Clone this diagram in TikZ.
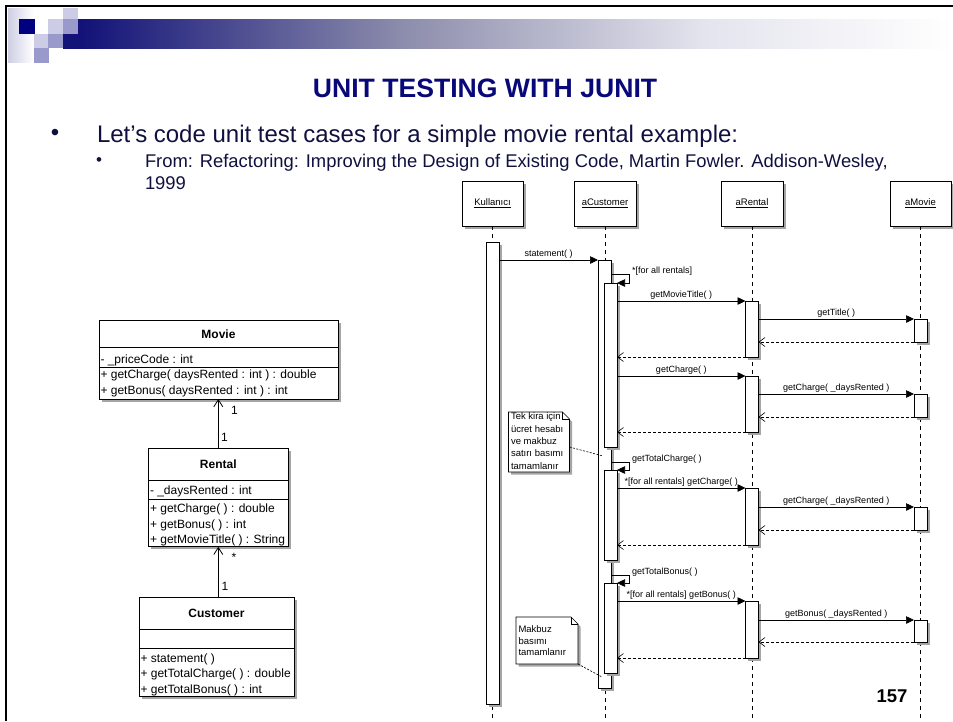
\documentclass[tikz,border=0pt]{standalone}
\usepackage{fontspec}
\setmainfont{Liberation Sans}
\usetikzlibrary{shadows,arrows.meta}
\definecolor{hA}{RGB}{18,18,120}
\definecolor{hB}{RGB}{140,140,172}
\definecolor{hC}{RGB}{228,228,238}
\definecolor{sqL}{RGB}{204,204,230}
\definecolor{sqM}{RGB}{153,153,204}
\definecolor{sqD}{RGB}{0,0,128}
\definecolor{gradL}{RGB}{206,206,228}
\definecolor{titleC}{RGB}{8,8,120}
\definecolor{bodyC}{RGB}{16,16,64}
\definecolor{shadowC}{RGB}{165,165,165}
\pgfdeclarehorizontalshading{hdrshade}{100bp}{color(0bp)=(hA); color(26bp)=(hA); color(44bp)=(hB); color(61bp)=(hC); color(75bp)=(white); color(100bp)=(white)}
\newcommand{\seqf}{\fontsize{9}{11}\selectfont}
\newcommand{\headf}{\fontsize{9.5}{11}\selectfont}
\newcommand{\clsf}{\fontsize{12}{14}\selectfont}
\begin{document}
\begin{tikzpicture}[x=1pt,y=-1pt,
  every node/.style={inner sep=0pt,outer sep=0pt},
  shad/.style={drop shadow={shadow xshift=2.5pt,shadow yshift=-2.5pt,fill=shadowC,opacity=1}},
  head/.style={draw,line width=0.7pt,fill=white,shad,minimum height=45pt,font=\headf},
  bar/.style={draw,line width=0.7pt,fill=white,shad,minimum width=13pt,anchor=north},
  life/.style={line width=0.7pt,dash pattern=on 4pt off 4pt},
  msg/.style={line width=0.7pt,-{Triangle[length=8pt,width=7.5pt]}},
  ret/.style={line width=0.6pt,dash pattern=on 3pt off 2pt,-{Straight Barb[length=6pt,width=9pt]}},
  mlab/.style={font=\seqf,anchor=base,yshift=4pt},
  slab/.style={font=\seqf,anchor=base west},
  notebox/.style={line width=0.6pt,fill=white,shad},
  notetext/.style={anchor=north west,align=left},
  notelink/.style={line width=0.6pt,dash pattern=on 2pt off 1.5pt},
  cls/.style={draw,line width=0.7pt,fill=white,shad,anchor=north west},
  sep/.style={line width=0.7pt},
  ctitle/.style={font=\clsf\bfseries,anchor=base},
  citem/.style={font=\clsf,anchor=base west},
  mult/.style={font=\clsf,anchor=base},
  assoc/.style={line width=0.8pt,-{Straight Barb[length=7pt,width=9pt]}}
]
\useasboundingbox (0,0) rectangle (953,721);
\fill[white] (0,0) rectangle (953,721);

% ---------- slide header ----------
\shade[shading=hdrshade] (63,19) rectangle (953,48.3);
\shade[left color=gradL,right color=white] (8,8) rectangle (33.3,62);
\fill[sqD] (19,19) rectangle (35,34);
\fill[sqL] (48.3,19) rectangle (63.3,34);
\fill[sqM] (63.3,19) rectangle (78,34);
\fill[sqL] (63.3,8) rectangle (78,19);
\fill[sqL] (34.3,34.3) rectangle (48.3,48.3);
\fill[sqM] (48.3,34.3) rectangle (63.3,48.3);
\fill[sqM] (34.3,48.3) rectangle (49,62.7);
\draw[line width=2.5pt] (6.2,721) -- (6.2,6.2) -- (953,6.2);

\node[font=\fontsize{26.6}{30}\selectfont\bfseries,text=titleC,anchor=base] (title) at (485,97) {UNIT TESTING WITH JUNIT};
\node[font=\fontsize{24}{28}\selectfont,text=bodyC] (b1) at (55,135) {•};
\node[font=\fontsize{24}{28}\selectfont,text=bodyC,anchor=base west] (l1) at (97,142) {Let’s code unit test cases for a simple movie rental example:};
\node[font=\fontsize{17}{20}\selectfont,text=bodyC] (b2) at (99,161.5) {•};
\node[font=\fontsize{18.4}{22}\selectfont,text=bodyC,anchor=base west] (l2) at (145,167) {From: Refactoring: Improving the Design of Existing Code, Martin Fowler. Addison-Wesley,};
\node[font=\fontsize{18.4}{22}\selectfont,text=bodyC,anchor=base west] (l3) at (145,189) {1999};
\node[font=\fontsize{18.5}{20}\selectfont\bfseries,anchor=base] (pg) at (892,702) {157};

% ---------- sequence diagram ----------
\coordinate (bot) at (0,721);
\node[head,minimum width=61pt] (kul) at (492.5,203.5) {\underline{Kullanıcı}};
\node[head,minimum width=62pt] (cus) at (605,203.5) {\underline{aCustomer}};
\node[head,minimum width=62pt] (ren) at (752,203.5) {\underline{aRental}};
\node[head,minimum width=61pt] (mov) at (920.5,203.5) {\underline{aMovie}};
\draw[life] (kul.south) -- (kul.south |- bot);
\draw[life] (cus.south) -- (cus.south |- bot);
\draw[life] (ren.south) -- (ren.south |- bot);
\draw[life] (mov.south) -- (mov.south |- bot);

\node[bar,minimum height=462pt,minimum width=12.5pt] (kb) at (493,242) {};
\node[bar,minimum height=428pt] (cb0) at (604.5,260) {};
\node[bar,minimum height=164pt] (cb1) at (610.5,283) {};
\node[bar,minimum height=90pt] (cb2) at (610.5,470) {};
\node[bar,minimum height=90pt] (cb3) at (610.5,583) {};
\node[bar,minimum height=56pt] (rb1) at (752,301) {};
\node[bar,minimum height=56pt] (rb2) at (752,376) {};
\node[bar,minimum height=57pt] (rb3) at (752,488) {};
\node[bar,minimum height=57pt] (rb4) at (752,601) {};
\node[bar,minimum height=23pt] (mb1) at (920.5,319) {};
\node[bar,minimum height=23pt] (mb2) at (920.5,394) {};
\node[bar,minimum height=23pt] (mb3) at (920.5,507) {};
\node[bar,minimum height=22pt] (mb4) at (920.5,620) {};

% statement
\draw[msg] (kb.east |- cb0.north) -- node[mlab] (t0) {statement( )} (cb0.north west);
% loop 1
\coordinate (s1) at (629,274);
\draw[msg] (cb0.east |- s1) -- (s1) |- (cb1.north east);
\node[slab] (t1) at (632,273) {*[for all rentals]};
\draw[msg] (cb1.east |- rb1.north) -- node[mlab] (t2) {getMovieTitle( )} (rb1.north west);
\draw[msg] (rb1.east |- mb1.north) -- node[mlab] (t3) {getTitle( )} (mb1.north west);
\draw[ret] (mb1.south west) -- (rb1.east |- mb1.south);
\draw[ret] (rb1.south west) -- (cb1.east |- rb1.south);
\draw[msg] (cb1.east |- rb2.north) -- node[mlab] (t4) {getCharge( )} (rb2.north west);
\draw[msg] (rb2.east |- mb2.north) -- node[mlab] (t5) {getCharge( \_daysRented )} (mb2.north west);
\draw[ret] (mb2.south west) -- (rb2.east |- mb2.south);
\draw[ret] (rb2.south west) -- (cb1.east |- rb2.south);
% total charge
\coordinate (s2) at (629,462);
\draw[msg] (cb0.east |- s2) -- (s2) |- (cb2.north east);
\node[slab] (t6) at (632,461.5) {getTotalCharge( )};
\draw[msg] (cb2.east |- rb3.north) -- node[mlab] (t7) {*[for all rentals] getCharge( )} (rb3.north west);
\draw[msg] (rb3.east |- mb3.north) -- node[mlab] (t8) {getCharge( \_daysRented )} (mb3.north west);
\draw[ret] (mb3.south west) -- (rb3.east |- mb3.south);
\draw[ret] (rb3.south west) -- (cb2.east |- rb3.south);
% total bonus
\coordinate (s3) at (629,575);
\draw[msg] (cb0.east |- s3) -- (s3) |- (cb3.north east);
\node[slab] (t9) at (632,574.3) {getTotalBonus( )};
\draw[msg] (cb3.east |- rb4.north) -- node[mlab] (t10) {*[for all rentals] getBonus( )} (rb4.north west);
\draw[msg] (rb4.east |- mb4.north) -- node[mlab] (t11) {getBonus( \_daysRented )} (mb4.north west);
\draw[ret] (mb4.south west) -- (rb4.east |- mb4.south);
\draw[ret] (rb4.south west) -- (cb3.east |- rb4.south);

% notes
\node[minimum width=61pt,minimum height=60pt,anchor=north west] (n1) at (508.5,412) {};
\draw[notebox] (n1.north west) -- ([xshift=-7pt]n1.north east) -- ([yshift=-7pt]n1.north east) -- (n1.south east) -- (n1.south west) -- cycle;
\draw[line width=0.6pt] ([xshift=-7pt]n1.north east) |- ([yshift=-7pt]n1.north east);
\node[notetext,font=\fontsize{9.5}{12.4}\selectfont] (n1t) at (511,412.8) {Tek kira için\\ücret hesabı\\ve makbuz\\satırı basımı\\tamamlanır};
\coordinate (n1e) at (603,456);
\draw[notelink] ([yshift=-5pt]n1.east) -- (n1e);

\node[minimum width=62pt,minimum height=47pt,anchor=north west] (n2) at (516,617) {};
\draw[notebox] (n2.north west) -- ([xshift=-7pt]n2.north east) -- ([yshift=-7pt]n2.north east) -- (n2.south east) -- (n2.south west) -- cycle;
\draw[line width=0.6pt] ([xshift=-7pt]n2.north east) |- ([yshift=-7pt]n2.north east);
\node[notetext,font=\fontsize{9.5}{11.7}\selectfont] (n2t) at (518.5,625.6) {Makbuz\\basımı\\tamamlanır};
\coordinate (n2e) at (602,677);
\draw[notelink] (n2.south east) -- (n2e);

% ---------- class diagram ----------
\node[cls,minimum width=239pt,minimum height=79pt] (movie) at (99,320) {};
\coordinate (mvA) at (0,347);
\coordinate (mvB) at (0,367.5);
\draw[sep] (movie.west |- mvA) -- (movie.east |- mvA);
\draw[sep] (movie.west |- mvB) -- (movie.east |- mvB);
\node[ctitle] (movieT) at (218.5,338.5) {Movie};
\node[citem] (movieA) at (100.5,363) {- \_priceCode : int};
\node[citem] (movieM1) at (100.5,378.6) {+ getCharge( daysRented : int ) : double};
\node[citem] (movieM2) at (100.5,394.3) {+ getBonus( daysRented : int ) : int};

\node[cls,minimum width=140pt,minimum height=98.5pt] (rental) at (148.3,448.3) {};
\coordinate (rnA) at (0,480);
\coordinate (rnB) at (0,499.3);
\draw[sep] (rental.west |- rnA) -- (rental.east |- rnA);
\draw[sep] (rental.west |- rnB) -- (rental.east |- rnB);
\node[ctitle] (rentalT) at (218.3,468.5) {Rental};
\node[citem] (rentalA) at (150,494.3) {- \_daysRented : int};
\node[citem] (rentalM1) at (150,512.6) {+ getCharge( ) : double};
\node[citem] (rentalM2) at (150,528) {+ getBonus( ) : int};
\node[citem] (rentalM3) at (150,543.6) {+ getMovieTitle( ) : String};

\node[cls,minimum width=155pt,minimum height=98.7pt] (customer) at (139,597.3) {};
\coordinate (csA) at (0,629.3);
\coordinate (csB) at (0,648.3);
\draw[sep] (customer.west |- csA) -- (customer.east |- csA);
\draw[sep] (customer.west |- csB) -- (customer.east |- csB);
\node[ctitle] (customerT) at (216.5,617.5) {Customer};
\node[citem] (customerM1) at (140.5,662) {+ statement( )};
\node[citem] (customerM2) at (140.5,677.6) {+ getTotalCharge( ) : double};
\node[citem] (customerM3) at (140.5,693) {+ getTotalBonus( ) : int};

\draw[assoc] (rental.north) -- (rental.north |- movie.south);
\draw[assoc] (rental.south |- customer.north) -- (rental.south);
\node[mult] (m1) at (234.5,414) {1};
\node[mult] (m2) at (224.5,441.7) {1};
\node[mult] (m3) at (234,561.5) {*};
\node[mult] (m4) at (225,590.7) {1};
\end{tikzpicture}
\end{document}
